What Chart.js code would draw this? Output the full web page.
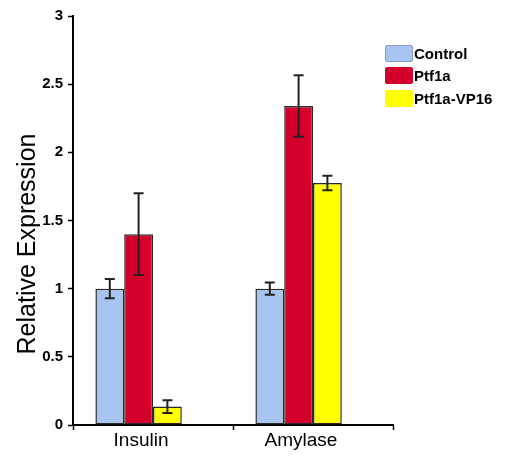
<!DOCTYPE html>
<html>
<head>
<meta charset="utf-8">
<script src="https://cdn.jsdelivr.net/npm/chart.js@4.4.1/dist/chart.umd.min.js"></script>
<style>
  html, body { margin: 0; padding: 0; background: #fff; }
  #wrap { position: relative; width: 508px; height: 457px; }
  #chart { position: absolute; left: 0; top: 0; }
  #ytitle {
    position: absolute; left: 26px; top: 244px; width: 300px;
    margin-left: -150px; margin-top: -15px; height: 30px; line-height: 30px;
    text-align: center; transform: rotate(-90deg);
    font-family: "Liberation Sans", Arial, sans-serif; font-size: 25px; color: #000;
    white-space: nowrap;
  }
  #legend { position: absolute; left: 385px; top: 42px;
    font-family: "Liberation Sans", Arial, sans-serif; font-size: 15px; font-weight: bold; color: #000; }
  .item { display: flex; align-items: center; height: 22.5px; }
  .box { width: 28px; height: 17px; margin-right: 1px; box-sizing: border-box; border-radius: 2px; }
</style>
</head>
<body>
<div id="wrap">
  <canvas id="chart" width="508" height="457"></canvas>
  <div id="ytitle">Relative Expression</div>
  <div id="legend"></div>
</div>
<script>
// ---- data ----
const categories = ['Insulin', 'Amylase'];
const seriesNames = ['Control', 'Ptf1a', 'Ptf1a-VP16'];
const controlValues = [1.00, 1.00];
const controlErrors = [0.07, 0.045];
const ptf1aValues = [1.40, 2.34];
const ptf1aErrors = [0.30, 0.225];
const vp16Values = [0.135, 1.775];
const vp16Errors = [0.047, 0.053];
const yTicks = [0, 0.5, 1, 1.5, 2, 2.5, 3];

// ---- styles ----
const fills = ['#a8c4f0', '#d2002b', '#ffff00'];
const legendBorders = ['#8a9ccc', '#d2002b', '#ffff00'];

const seriesValues = [controlValues, ptf1aValues, vp16Values];
const seriesErrors = [controlErrors, ptf1aErrors, vp16Errors];

const datasets = seriesNames.map((name, i) => ({
  label: name,
  data: seriesValues[i],
  errors: seriesErrors[i],
  backgroundColor: fills[i],
  borderColor: '#2a2a2a',
  borderWidth: 1.5,
  borderSkipped: false
}));
// empty slot: the original chart leaves a gap after the third bar in each group
datasets.push({ label: '', data: categories.map(() => null), errors: [], backgroundColor: 'rgba(0,0,0,0)' });

const errorBars = {
  id: 'errorBars',
  afterDatasetsDraw(chart) {
    const ctx = chart.ctx;
    const y = chart.scales.y;
    ctx.save();
    ctx.strokeStyle = '#222';
    ctx.lineWidth = 2;
    chart.data.datasets.forEach((ds, di) => {
      if (!ds.errors || !ds.errors.length) return;
      const meta = chart.getDatasetMeta(di);
      meta.data.forEach((bar, k) => {
        const v = ds.data[k], e = ds.errors[k];
        if (v == null || e == null) return;
        const yt = y.getPixelForValue(v + e);
        const yb = y.getPixelForValue(v - e);
        const x = bar.x;
        ctx.beginPath();
        ctx.moveTo(x, yt); ctx.lineTo(x, yb);
        ctx.moveTo(x - 5, yt); ctx.lineTo(x + 5, yt);
        ctx.moveTo(x - 5, yb); ctx.lineTo(x + 5, yb);
        ctx.stroke();
      });
    });
    ctx.restore();
  }
};

new Chart(document.getElementById('chart'), {
  type: 'bar',
  data: { labels: categories, datasets },
  plugins: [errorBars],
  options: {
    responsive: false,
    animation: false,
    layout: { padding: { left: 0, right: 115, top: 16, bottom: 0 } },
    datasets: { bar: { categoryPercentage: 0.72, barPercentage: 1.0 } },
    plugins: { legend: { display: false }, tooltip: { enabled: false } },
    scales: {
      x: {
        offset: true,
        grid: { offset: true, drawOnChartArea: false, drawTicks: true, tickLength: 5, color: '#000', tickWidth: 1.5 },
        border: { display: true, color: '#000', width: 2 },
        ticks: { color: '#000', padding: -1, labelOffset: -12,
          font: { family: '"Liberation Sans", Arial, sans-serif', size: 19 } },
        afterFit(s) { s.height = 32; }
      },
      y: {
        min: 0, max: 3,
        afterBuildTicks(s) { s.ticks = yTicks.map(v => ({ value: v })); },
        grid: { drawOnChartArea: false, drawTicks: true, tickLength: 5, color: '#000', tickWidth: 1.5 },
        border: { display: true, color: '#000', width: 2 },
        ticks: { color: '#000', padding: 5,
          font: { family: '"Liberation Sans", Arial, sans-serif', size: 15, weight: 'bold' },
          callback: v => String(v) },
        afterFit(s) { s.width = 73; }
      }
    }
  }
});

// HTML legend built from the series
const legend = document.getElementById('legend');
seriesNames.forEach((name, i) => {
  const item = document.createElement('div');
  item.className = 'item';
  const box = document.createElement('span');
  box.className = 'box';
  box.style.background = fills[i];
  box.style.border = '1px solid ' + legendBorders[i];
  const txt = document.createElement('span');
  txt.textContent = name;
  item.appendChild(box); item.appendChild(txt);
  legend.appendChild(item);
});
</script>
</body>
</html>
